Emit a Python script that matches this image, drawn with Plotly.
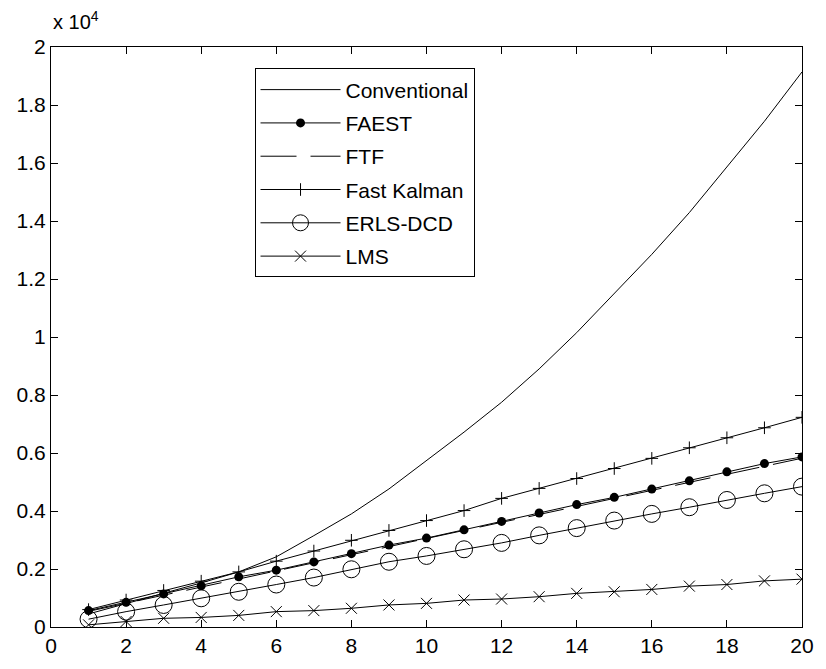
import plotly.graph_objects as go

# Filter length N
N = list(range(1, 21))

# Operations per sample for each algorithm
conventional = [450, 800, 1160, 1520, 1900, 2420, 3150, 3900, 4760, 5730,
                6720, 7750, 8900, 10150, 11500, 12850, 14290, 15880, 17440, 19140]
faest = [565, 850, 1140, 1420, 1730, 1960, 2245, 2530, 2825, 3065,
         3350, 3640, 3930, 4220, 4470, 4755, 5040, 5350, 5635, 5865]
ftf = [540, 820, 1110, 1390, 1670, 1950, 2220, 2500, 2780, 3050,
       3330, 3610, 3880, 4160, 4440, 4720, 4990, 5270, 5550, 5820]
fast_kalman = [600, 930, 1260, 1580, 1900, 2270, 2620, 2990, 3330, 3670,
               4015, 4435, 4780, 5120, 5465, 5815, 6180, 6525, 6870, 7230]
erls_dcd = [270, 530, 760, 990, 1215, 1465, 1705, 1990, 2250, 2450,
            2680, 2900, 3160, 3410, 3670, 3900, 4130, 4380, 4610, 4840]
lms = [75, 190, 300, 330, 400, 530, 565, 645, 760, 815,
       930, 965, 1045, 1160, 1215, 1295, 1410, 1465, 1590, 1650]

y_ticks = list(range(0, 20001, 2000))
y_tick_text = ["0", "0.2", "0.4", "0.6", "0.8", "1", "1.2", "1.4", "1.6", "1.8", "2"]
x_ticks = list(range(0, 21, 2))

FONT = "Liberation Sans, Arial, Helvetica, sans-serif"
BLACK = "black"

fig = go.Figure()

def add(name, y, mode, marker=None, dash="solid"):
    fig.add_trace(go.Scatter(
        x=N, y=y, name=name, mode=mode, legendgroup=name,
        line=dict(color=BLACK, width=1, dash=dash),
        marker=marker,
    ))

add("Conventional", conventional, "lines")
add("FAEST", faest, "lines+markers",
    marker=dict(symbol="circle", size=9, color=BLACK))
add("FTF", ftf, "lines", dash="36px,14px")
add("Fast Kalman", fast_kalman, "lines+markers",
    marker=dict(symbol="cross-thin-open", size=9, line=dict(color=BLACK, width=1)))
add("ERLS-DCD", erls_dcd, "lines+markers",
    marker=dict(symbol="circle-open", size=17, line=dict(color=BLACK, width=1)))
add("LMS", lms, "lines+markers",
    marker=dict(symbol="x-thin-open", size=11, line=dict(color=BLACK, width=1)))

axis_common = dict(
    showgrid=False, zeroline=False, showline=True, linecolor=BLACK, linewidth=1,
    mirror="ticks", ticks="inside", ticklen=7, tickcolor=BLACK, tickwidth=1,
    tickfont=dict(family=FONT, size=21, color=BLACK),
)

fig.update_layout(
    width=826, height=669,
    margin=dict(l=51, r=20, t=47, b=39),
    paper_bgcolor="white", plot_bgcolor="white",
    font=dict(family=FONT, size=21, color=BLACK),
    xaxis=dict(range=[0, 20], tickvals=x_ticks, **axis_common),
    yaxis=dict(range=[0, 20000], tickvals=y_ticks, ticktext=y_tick_text, **axis_common),
    legend=dict(
        x=0.271, y=0.963, xanchor="left", yanchor="top",
        bgcolor="white", bordercolor=BLACK, borderwidth=1,
        font=dict(family=FONT, size=21, color=BLACK),
        tracegroupgap=3, itemwidth=80,
    ),
    annotations=[dict(
        x=0, y=1, xref="paper", yref="paper", xanchor="left", yanchor="bottom",
        text="x 10<sup>4</sup>", showarrow=False, yshift=12,
        font=dict(family=FONT, size=20, color=BLACK),
    )],
)

fig.write_html("out.html")
